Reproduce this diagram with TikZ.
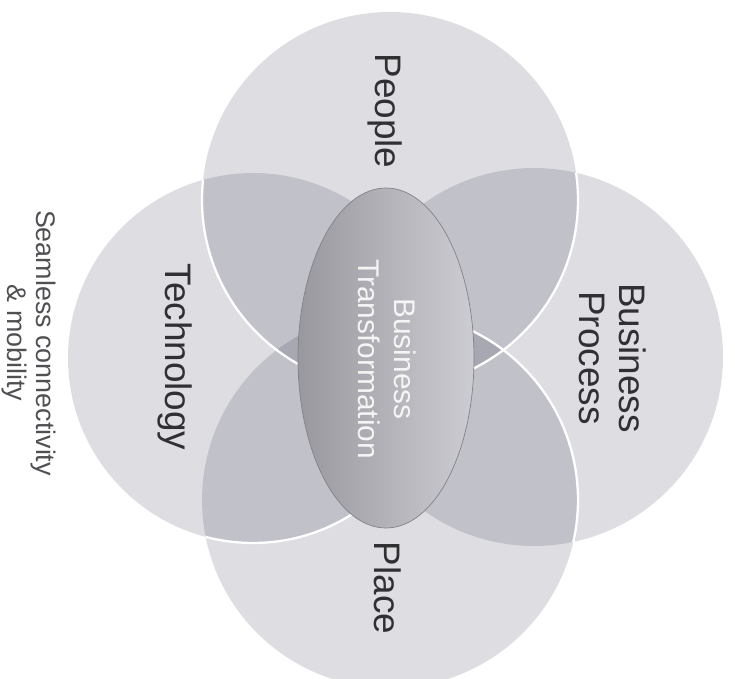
\documentclass[tikz,border=0pt]{standalone}
\usepackage{fontspec}
\setmainfont{Liberation Sans}
\usetikzlibrary{positioning}
\tikzset{every picture/.style={semithick}}
\definecolor{petalGrey}{RGB}{20,20,50}
\definecolor{hubDark}{RGB}{152,152,158}
\definecolor{hubLight}{RGB}{204,204,210}
\definecolor{hubEdge}{RGB}{130,130,138}
\definecolor{labelInk}{RGB}{48,48,50}
\definecolor{noteInk}{RGB}{80,80,84}

\begin{document}
\begin{tikzpicture}[x=0.02cm, y=-0.02cm,
        petal/.style={fill=petalGrey, fill opacity=0.14},
        seam/.style={draw=white, line width=1.3pt},
        label/.style={rotate=-90, text=labelInk, align=center, font=\fontsize{21}{22.7}\selectfont}]
    \useasboundingbox (0,0) rectangle (735,679);
    \coordinate (people) at (390,200);
    \coordinate (place) at (390,500);
    \coordinate (tech) at (253,358);
    \coordinate (process) at (534,357);
    \coordinate (hub) at (386,358);
    % the four petals
    \fill[petal] (people) circle[radius=188];
    \fill[petal] (place) circle[radius=188];
    \fill[petal] (tech) circle[radius=185];
    \fill[petal] (process) circle[radius=189];
    % white seams
    \begin{scope}
        \clip (tech) circle[radius=185];
        \draw[seam] (people) circle[radius=188];
    \end{scope}
    \begin{scope}
        \clip (process) circle[radius=189];
        \draw[seam] (people) circle[radius=188];
        \draw[seam] (place) circle[radius=188];
    \end{scope}
    \begin{scope}
        \clip (place) circle[radius=188];
        \draw[seam] (tech) circle[radius=185];
    \end{scope}
    % core
    \draw[draw=hubEdge, thin, left color=hubDark, right color=hubLight] (hub) ellipse[x radius=88, y radius=170];
    \node[label, text=white!92!gray, font=\fontsize{17}{20.5}\selectfont] (transformation) at (387,359) {Business\\Transformation};
    \node[label] (peopleLabel) at (385,111) {People};
    \node[label] (placeLabel) at (388,588) {Place};
    \node[label] (techLabel) at (175,357) {Technology};
    \node[label] (processLabel) at (613,358) {Business\\Process};
    \node[label, text=noteInk, font=\fontsize{15.3}{16}\selectfont] (mobility) at (29,343) {Seamless connectivity\\\& mobility};
\end{tikzpicture}
\end{document}
